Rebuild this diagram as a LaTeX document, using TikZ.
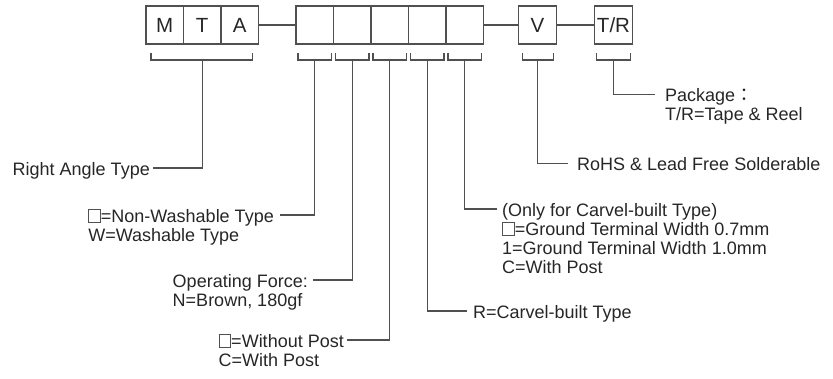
\documentclass[tikz,border=0pt]{standalone}
\usepackage{fontspec}
\setmainfont{Liberation Sans}
\newfontfamily\cjkfont{Noto Sans CJK TC}
\usetikzlibrary{positioning, calc}

\definecolor{linegray}{HTML}{505050}
\definecolor{textgray}{HTML}{262626}

\newcommand{\blankbox}{{\color{linegray}\fboxsep=0pt\fboxrule=0.8pt\fbox{\rule{0pt}{12pt}\hspace{11pt}}}}
\newcommand{\topline}{\rule{0pt}{14pt}}

\begin{document}
\begin{tikzpicture}[x=1pt, y=-1pt,
  cell/.style={draw=linegray, line width=1.2pt, minimum width=37.5pt, minimum height=38pt,
    inner sep=0pt, outer sep=0pt, text=textgray, font=\fontsize{20.5}{22}\selectfont},
  lead/.style={draw=linegray, line width=1.2pt},
  note/.style={align=left, inner ysep=0pt, inner xsep=3pt, text=textgray,
    font=\fontsize{18}{19}\selectfont}]
\useasboundingbox (0,0) rectangle (833,379);

% part number boxes
\node[cell] (m) at (164.75,25) {M};
\node[cell, right=0pt of m] (t) {T};
\node[cell, right=0pt of t] (a) {A};
\node[cell] (c1) at (314.75,25) {};
\node[cell, right=0pt of c1] (c2) {};
\node[cell, right=0pt of c2] (c3) {};
\node[cell, right=0pt of c3] (c4) {};
\node[cell, right=0pt of c4] (c5) {};
\node[cell] (v) at (537.5,25) {V};
\node[cell] (tr) at (613.5,25) {T/R};

\draw[lead] (a) -- (c1);
\draw[lead] (c5) -- (v);
\draw[lead] (v) -- (tr);

% brackets under the boxes
\draw[lead] ([shift={(5pt,-9pt)}]m.south west) -- ++(0,7) -| ([shift={(-6pt,-9pt)}]a.south east);
\foreach \c in {c1,c2,c3,c4,c5,tr}
  \draw[lead] ([shift={(2pt,-9pt)}]\c.south west) -- ++(0,7) -| ([shift={(-2pt,-9pt)}]\c.south east);
\draw[lead] ([shift={(4pt,-9pt)}]v.south west) -- ++(0,7) -| ([shift={(-3pt,-9pt)}]v.south east);

% labels
\node[note, anchor=north east] (rat) at (153,161) {\topline Right Angle Type};
\node[note, anchor=north east, inner xsep=6pt] (wash) at (280,208)
  {\topline\blankbox=Non-Washable Type\\W=Washable Type};
\node[note, anchor=north east, inner xsep=5pt] (force) at (313,273)
  {\topline Operating Force:\\N=Brown, 180gf};
\node[note, anchor=north east] (post) at (347,333)
  {\topline\blankbox=Without Post\\C=With Post};
\node[note, anchor=north west, inner xsep=6pt] (carvel) at (467,304)
  {\topline R=Carvel-built Type};
\node[note, anchor=north west, inner xsep=5pt] (ground) at (497,202)
  {\topline(Only for Carvel-built Type)\\\blankbox=Ground Terminal Width 0.7mm\\1=Ground Terminal Width 1.0mm\\C=With Post};
\node[note, anchor=north west, inner xsep=9pt] (rohs) at (568,156.5)
  {\topline RoHS \& Lead Free Solderable};
\node[note, anchor=north west, inner xsep=10pt] (pkg) at (655,87.5)
  {\topline Package{\cjkfont ：}\\T/R=Tape \& Reel};

% leaders
\draw[lead] ([yshift=-16pt]t.south) |- ([yshift=-7pt]rat.north east);
\draw[lead] ([yshift=-16pt]c1.south) |- ([yshift=-7pt]wash.north east);
\draw[lead] ([yshift=-16pt]c2.south) |- ([yshift=-7pt]force.north east);
\draw[lead] ([yshift=-16pt]c3.south) |- ([yshift=-7pt]post.north east);
\draw[lead] ([yshift=-16pt]c4.south) |- ([yshift=-7pt]carvel.north west);
\draw[lead] ([yshift=-16pt]c5.south) |- ([yshift=-7pt]ground.north west);
\draw[lead] ([yshift=-16pt]v.south) |- ([yshift=-7pt]rohs.north west);
\draw[lead] ([yshift=-16pt]tr.south) |- ([yshift=-7pt]pkg.north west);
\end{tikzpicture}
\end{document}
